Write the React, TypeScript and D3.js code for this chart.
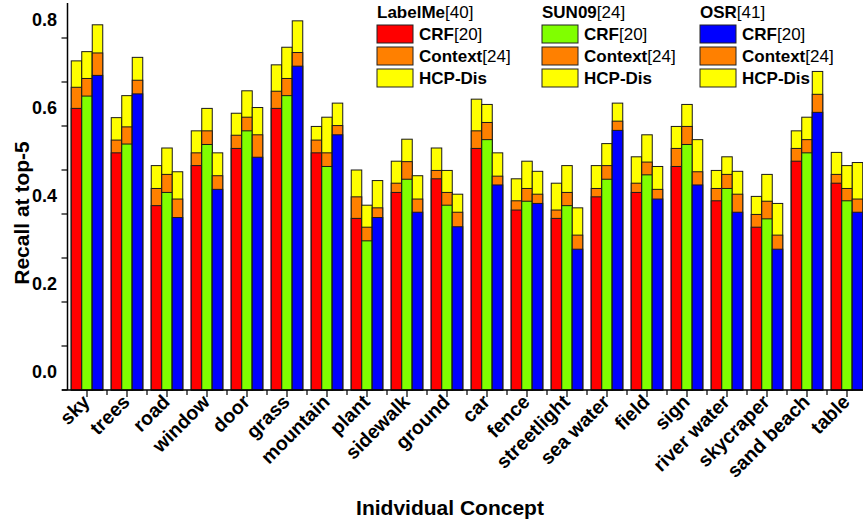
import * as d3 from 'd3';

const categories = [
  'sky', 'trees', 'road', 'window', 'door', 'grass', 'mountain', 'plant', 'sidewalk', 'ground',
  'car', 'fence', 'streetlight', 'sea water', 'field', 'sign', 'river water', 'skycraper', 'sand beach', 'table',
];

// LabelMe[40]
const labelMeCRF = [0.640, 0.539, 0.419, 0.510, 0.549, 0.640, 0.539, 0.390, 0.449, 0.480, 0.549, 0.409, 0.390, 0.439, 0.449, 0.508, 0.430, 0.370, 0.520, 0.470];
const labelMeContext = [0.688, 0.568, 0.458, 0.539, 0.579, 0.679, 0.568, 0.439, 0.470, 0.499, 0.589, 0.430, 0.409, 0.458, 0.470, 0.549, 0.458, 0.399, 0.549, 0.490];
const labelMeHCP = [0.748, 0.619, 0.510, 0.589, 0.629, 0.739, 0.599, 0.500, 0.520, 0.550, 0.661, 0.480, 0.470, 0.510, 0.530, 0.599, 0.499, 0.440, 0.589, 0.540];

// SUN09[24]
const sun09CRF = [0.668, 0.559, 0.449, 0.558, 0.589, 0.669, 0.508, 0.339, 0.479, 0.420, 0.569, 0.429, 0.419, 0.479, 0.489, 0.558, 0.458, 0.389, 0.539, 0.430];
const sun09Context = [0.708, 0.598, 0.490, 0.589, 0.620, 0.708, 0.539, 0.370, 0.519, 0.449, 0.608, 0.458, 0.449, 0.510, 0.518, 0.599, 0.490, 0.429, 0.569, 0.458];
const sun09HCP = [0.769, 0.669, 0.550, 0.640, 0.680, 0.779, 0.620, 0.420, 0.570, 0.499, 0.649, 0.520, 0.510, 0.560, 0.580, 0.649, 0.530, 0.490, 0.620, 0.510];

// OSR[41]
const osrCRF = [0.715, 0.673, 0.392, 0.456, 0.529, 0.736, 0.580, 0.392, 0.404, 0.371, 0.466, 0.424, 0.320, 0.590, 0.434, 0.466, 0.404, 0.320, 0.631, 0.404];
const osrContext = [0.766, 0.704, 0.434, 0.487, 0.580, 0.767, 0.601, 0.414, 0.434, 0.404, 0.486, 0.445, 0.352, 0.611, 0.456, 0.496, 0.445, 0.352, 0.672, 0.434];
const osrHCP = [0.830, 0.756, 0.496, 0.539, 0.642, 0.839, 0.652, 0.476, 0.487, 0.445, 0.539, 0.497, 0.414, 0.652, 0.508, 0.569, 0.497, 0.424, 0.724, 0.517];

const yTicks = [0, 0.1, 0.2, 0.3, 0.4, 0.5, 0.6, 0.7, 0.8];

const datasets = [
  { name: 'LabelMe', ref: '[40]', color: '#ff0000', crf: labelMeCRF, context: labelMeContext, hcp: labelMeHCP },
  { name: 'SUN09', ref: '[24]', color: '#80ff00', crf: sun09CRF, context: sun09Context, hcp: sun09HCP },
  { name: 'OSR', ref: '[41]', color: '#0000ff', crf: osrCRF, context: osrContext, hcp: osrHCP },
];

const ORANGE = '#ff8000';
const YELLOW = '#ffff00';
const FONT = 'Liberation Sans, Arial, sans-serif';

export default function App() {
  const width = 863,
    height = 523,
    axisLeft = 67.5,
    axisBottom = 390;

  const x = d3.scaleBand<string>().domain(categories).range([67, 867]);
  const inner = d3.scaleBand<number>().domain([0, 1, 2]).range([0, 31.5]);
  const off = (x.bandwidth() - 31.5) / 2;
  const y = d3.scaleLinear().domain([0, 0.8]).range([axisBottom, 38]);

  const bars: JSX.Element[] = [];
  categories.forEach((c, i) => {
    datasets.forEach((ds, j) => {
      const bx = (x(c) as number) + off + (inner(j) as number);
      const layers = [
        { v: ds.hcp[i], fill: YELLOW },
        { v: ds.context[i], fill: ORANGE },
        { v: ds.crf[i], fill: ds.color },
      ];
      layers.forEach((l, k) => {
        bars.push(
          <rect
            key={`${c}-${j}-${k}`}
            x={bx}
            y={y(l.v)}
            width={inner.bandwidth()}
            height={y(0) - y(l.v)}
            fill={l.fill}
            stroke="#1a1a1a"
            strokeWidth={1}
          />
        );
      });
    });
  });

  return (
    <svg
      width={width}
      height={height}
      style={{ position: 'absolute', left: 0, top: 0, background: '#fff' }}
      fontFamily={FONT}
    >
      {bars}

      {/* y axis */}
      <line x1={axisLeft} x2={axisLeft} y1={3} y2={axisBottom} stroke="#000" strokeWidth={1.5} />
      {yTicks.map((t) => (
        <g key={t}>
          <line x1={axisLeft - 6} x2={axisLeft} y1={y(t)} y2={y(t)} stroke="#000" strokeWidth={1.2} />
          {Math.round(t * 10) % 2 === 0 && (
            <text x={57} y={y(t) - 18} dy="0.35em" textAnchor="end" fontSize={18} fontWeight="bold">
              {t.toFixed(1)}
            </text>
          )}
        </g>
      ))}

      {/* x axis */}
      <line x1={62} x2={width} y1={axisBottom} y2={axisBottom} stroke="#000" strokeWidth={1.5} />
      {categories.map((c) => {
        const cx = (x(c) as number) + x.bandwidth() / 2;
        return (
          <g key={c}>
            <line x1={cx} x2={cx} y1={axisBottom} y2={axisBottom + 7} stroke="#000" strokeWidth={1.2} />
            <line x1={cx + 20} x2={cx + 20} y1={axisBottom} y2={axisBottom + 5} stroke="#000" strokeWidth={1.2} />
            <text
              transform={`translate(${cx + 4},${axisBottom + 13}) rotate(-45)`}
              textAnchor="end"
              fontSize={19.5}
              fontWeight="bold"
            >
              {c}
            </text>
          </g>
        );
      })}

      {/* axis titles */}
      <text
        transform={`translate(29,213) rotate(-90)`}
        textAnchor="middle"
        fontSize={21}
        fontWeight="bold"
      >
        Recall at top-5
      </text>
      <text x={450} y={515} textAnchor="middle" fontSize={21} fontWeight="bold">
        Inidvidual Concept
      </text>

      {/* legend */}
      {datasets.map((ds, j) => {
        const lx = [377, 542, 700][j];
        const items = [
          { fill: ds.color, bold: 'CRF', rest: '[20]' },
          { fill: ORANGE, bold: 'Context', rest: '[24]' },
          { fill: YELLOW, bold: 'HCP-Dis', rest: '' },
        ];
        return (
          <g key={ds.name} fontSize={17}>
            <text x={lx} y={18}>
              <tspan fontWeight="bold">{ds.name}</tspan>
              <tspan>{ds.ref}</tspan>
            </text>
            {items.map((it, k) => (
              <g key={k}>
                <rect x={lx} y={25 + k * 22} width={36} height={18} fill={it.fill} stroke="#222" strokeWidth={1} />
                <text x={lx + 42} y={25 + k * 22 + 15}>
                  <tspan fontWeight="bold">{it.bold}</tspan>
                  <tspan>{it.rest}</tspan>
                </text>
              </g>
            ))}
          </g>
        );
      })}
    </svg>
  );
}
